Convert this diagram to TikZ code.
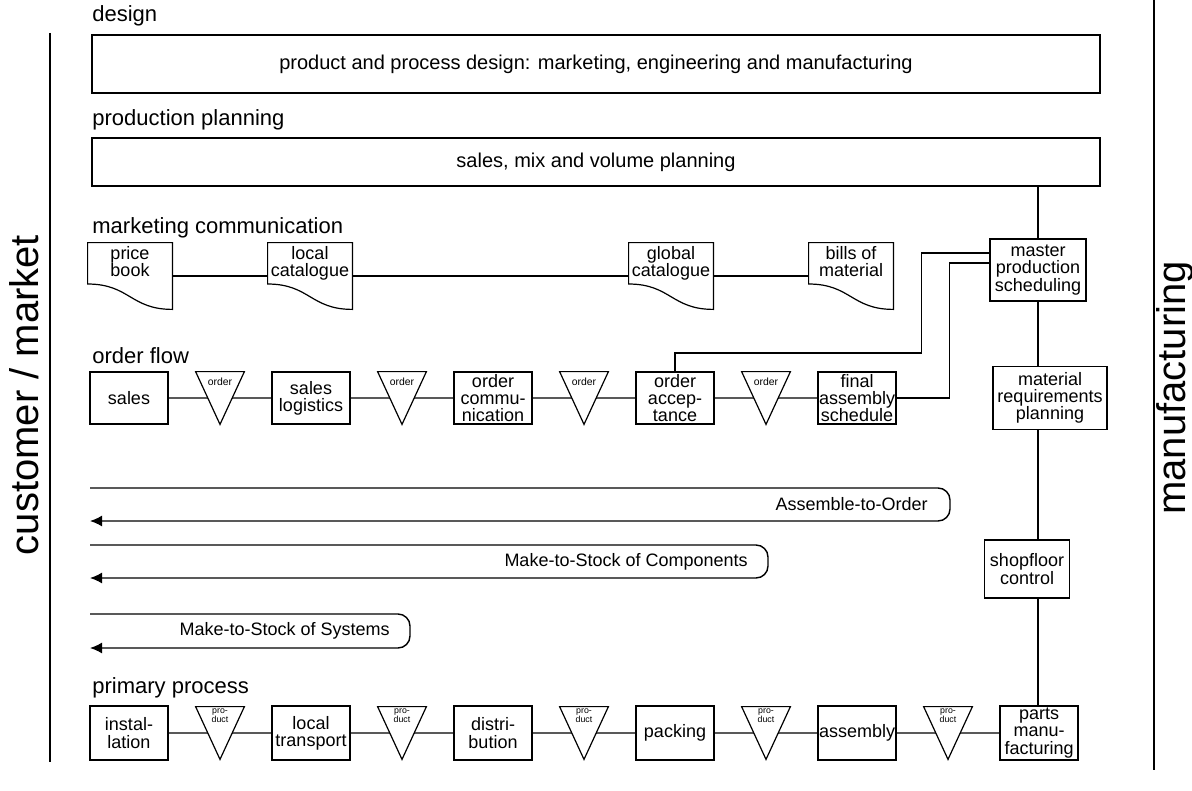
\documentclass[tikz,border=0pt]{standalone}
\usepackage{fontspec}
\setmainfont{Liberation Sans}
\usepackage{tikz}
\usetikzlibrary{arrows.meta,positioning,calc}
\newcommand{\boxfont}{\fontsize{9}{8.6}\selectfont}
\tikzset{
  block/.style={draw, line width=0.6pt, align=center, inner sep=0pt,
    minimum width=39pt, minimum height=26pt, font=\boxfont},
  wideblock/.style={draw, line width=0.6pt, align=center,
    minimum width=504pt, font=\fontsize{10}{12}\selectfont},
  rowlabel/.style={anchor=west, inner sep=0pt, font=\fontsize{11}{13}\selectfont},
  docnode/.style={minimum width=42pt, minimum height=33pt, inner sep=0pt},
  doctext/.style={anchor=north, inner sep=1.5pt, align=center, font=\boxfont},
  tri/.style={minimum width=24pt, minimum height=26pt, inner sep=0pt},
  trifont/.style={align=center, anchor=north},
  ordertri/.style={tri, label={[trifont, font=\fontsize{5.2}{5.2}\selectfont, inner sep=3pt]north:order}},
  prodtri/.style={tri, label={[trifont, font=\fontsize{4.4}{4.2}\selectfont, inner sep=1pt]north:pro-\\duct}},
  wire/.style={line width=0.6pt},
  routeflow/.style={-{Latex[length=6pt,width=5.5pt]}, line width=0.7pt, rounded corners=6pt},
  routetext/.style={anchor=east, inner sep=0pt, font=\fontsize{9}{11}\selectfont},
  sidelabel/.style={rotate=90, font=\fontsize{20}{24}\selectfont}
}
\begin{document}
\begin{tikzpicture}[x=0.5pt, y=-0.5pt, node distance=13.5pt]
  \useasboundingbox (0,0) rectangle (1192,791);
  \node[sidelabel] (custlbl) at (24,395) {customer / market};
  \node[sidelabel] (manulbl) at (1175,388) {manufacturing};
  \draw[wire] (50,33) -- (50,762);
  \draw[wire] (1154,0) -- (1154,770);

  \node[rowlabel] (designlbl) at (92,16) {design};
  \node[wideblock, minimum height=29pt] (design) at (596,64)
    {product and process design: marketing, engineering and manufacturing};
  \node[rowlabel] (planlbl) at (92,120) {production planning};
  \node[wideblock, minimum height=24pt] (planning) at (596,162) {sales, mix and volume planning};

  \node[rowlabel] (commlbl) at (92,228) {marketing communication};
  \node[docnode, label={[doctext]north:price\\book}] (pbook) at (130,276) {};
  \node[docnode, label={[doctext]north:local\\catalogue}] (lcat) at (310,276) {};
  \node[docnode, label={[doctext]north:global\\catalogue}] (gcat) at (671,276) {};
  \node[docnode, label={[doctext]north:bills of\\material}] (bom) at (851,276) {};
  \node[block, minimum width=48pt, minimum height=31pt] (mps) at (1038,270) {master\\production\\scheduling};

  \node[rowlabel] (orderlbl) at (92,356) {order flow};
  \node[block] (sales) at (129,398) {sales};
  \node[ordertri, right=of sales] (o1) {};
  \node[block, right=of o1] (slog) {sales\\logistics};
  \node[ordertri, right=of slog] (o2) {};
  \node[block, right=of o2] (ocomm) {order\\commu-\\nication};
  \node[ordertri, right=of ocomm] (o3) {};
  \node[block, right=of o3] (oacc) {order\\accep-\\tance};
  \node[ordertri, right=of oacc] (o4) {};
  \node[block, right=of o4] (fas) {final\\assembly\\schedule};
  \node[block, minimum width=57pt, minimum height=31.5pt] (mrp) at (1050,398) {material\\requirements\\planning};

  \coordinate (atoA) at (90,488);
  \coordinate (atoB) at (950,521);
  \node[routetext] (atolbl) at (928,504) {Assemble-to-Order};
  \draw[routeflow] (atoA) -- (atoA -| atoB) -- (atoB) -- (atoB -| atoA);
  \coordinate (mtcA) at (90,545);
  \coordinate (mtcB) at (768,578);
  \node[routetext] (mtclbl) at (748,562) {Make-to-Stock of Components};
  \draw[routeflow] (mtcA) -- (mtcA -| mtcB) -- (mtcB) -- (mtcB -| mtcA);
  \coordinate (mtsA) at (90,614);
  \coordinate (mtsB) at (410,648);
  \node[routetext] (mtslbl) at (390,631) {Make-to-Stock of Systems};
  \draw[routeflow] (mtsA) -- (mtsA -| mtsB) -- (mtsB) -- (mtsB -| mtsA);

  \node[block, minimum width=42.5pt, minimum height=29pt] (sfc) at (1027,569) {shopfloor\\control};

  \node[rowlabel] (primlbl) at (92,688) {primary process};
  \node[block, minimum height=27pt] (instal) at (129,733) {instal-\\lation};
  \node[prodtri, right=of instal] (p1) {};
  \node[block, minimum height=27pt, right=of p1] (trans) {local\\transport};
  \node[prodtri, right=of trans] (p2) {};
  \node[block, minimum height=27pt, right=of p2] (distr) {distri-\\bution};
  \node[prodtri, right=of distr] (p3) {};
  \node[block, minimum height=27pt, right=of p3] (pack) {packing};
  \node[prodtri, right=of pack] (p4) {};
  \node[block, minimum height=27pt, right=of p4] (assem) {assembly};
  \node[prodtri, right=of assem] (p5) {};
  \node[block, minimum height=27pt, right=of p5] (parts) {parts\\manu-\\facturing};

  \foreach \t in {o1,o2,o3,o4,p1,p2,p3,p4,p5}
    \draw[wire] (\t.north west) -- (\t.north east) -- (\t.south) -- cycle;
  \foreach \d in {pbook,lcat,gcat,bom}
    \draw[wire] (\d.north west) -- (\d.north east) -- (\d.south east)
      .. controls ($(\d.south east)+(-21pt,0)$) and ($(\d.north west)!0.62!(\d.south west)+(21pt,0)$)
      .. ($(\d.north west)!0.62!(\d.south west)$) -- cycle;

  \foreach \a/\b in {pbook/lcat,lcat/gcat,gcat/bom}
    \draw[wire] (\a) -- (\b);
  \foreach \a/\b in {sales/o1,slog/o2,ocomm/o3,oacc/o4,instal/p1,trans/p2,distr/p3,pack/p4,assem/p5}
    \draw[wire] (\a.east) -- ($(\b.north west)!0.5!(\b.south)$);
  \foreach \a/\b in {o1/slog,o2/ocomm,o3/oacc,o4/fas,p1/trans,p2/distr,p3/pack,p4/assem,p5/parts}
    \draw[wire] ($(\a.north east)!0.5!(\a.south)$) -- (\b.west);

  \draw[wire] (planning.south -| mps) -- (mps.north);
  \draw[wire] (mps.south) -- (mps.south |- mrp.north);
  \draw[wire] (mrp.south -| mps) -- (sfc.north -| mps);
  \draw[wire] (sfc.south -| mps) -- (parts.north -| mps);
  \draw[wire] ([yshift=8.5pt]mps.west) -- ++(-68,0) -- ++(0,100) -| (oacc.north);
  \draw[wire] ([yshift=3.5pt]mps.west) -- ++(-40,0) |- (fas.east);
\end{tikzpicture}
\end{document}
